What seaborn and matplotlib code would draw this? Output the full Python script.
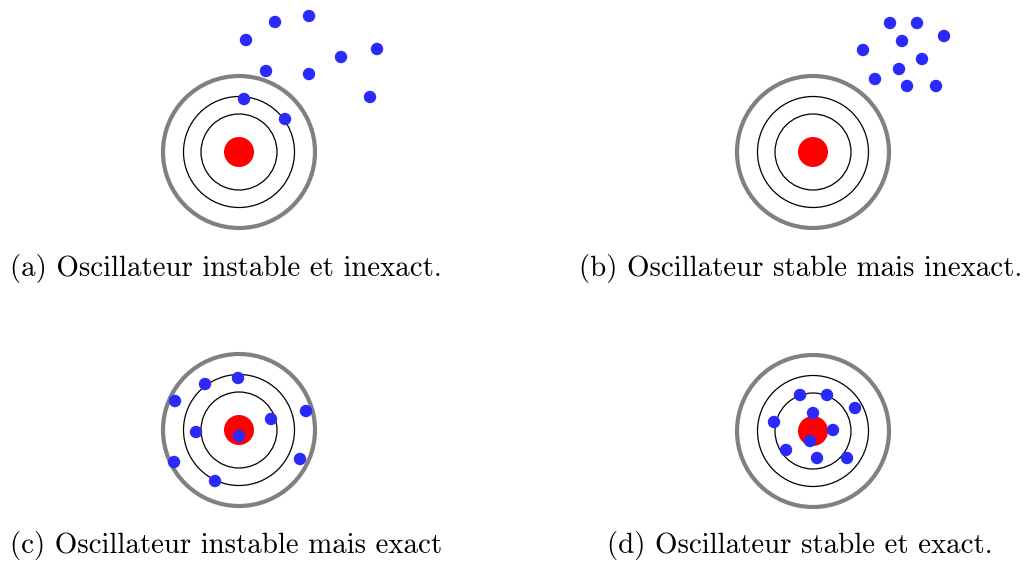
import numpy as np
import pandas as pd
import matplotlib
matplotlib.use('Agg')
import matplotlib.pyplot as plt
from matplotlib.patches import Circle
import seaborn as sns

# shots relative to target centre (pixels, y downward)
a_dx = [7, 36, 70, 27, 70, 102, 138, 131, 5, 46]
a_dy = [-112, -130, -136, -81, -78, -95, -103, -55, -53, -33]
b_dx = [77, 104, 131, 89, 50, 109, 86, 62, 94, 123]
b_dy = [-129, -129, -116, -111, -102, -93, -83, -73, -66, -66]
c_dx = [-1, -34, -64, 67, 32, -43, 0, -65, 61, -24]
c_dy = [-52, -46, -29, -19, -11, 2, 6, 32, 29, 51]
d_dx = [-13, 14, 42, 0, -39, 20, -3, -27, 4, 34]
d_dy = [-36, -36, -23, -18, -9, -1, 10, 19, 27, 27]

panels = ['a', 'b', 'c', 'd']
captions = ['(a) Oscillateur instable et inexact.',
            '(b) Oscillateur stable mais inexact.',
            '(c) Oscillateur instable mais exact',
            '(d) Oscillateur stable et exact.']

# layout
centres = {'a': (239, 152), 'b': (813, 152), 'c': (239, 430), 'd': (813, 431)}
cap_pos = {'a': (10, 276), 'b': (579, 276), 'c': (10, 553), 'd': (607, 553)}

shots = {'a': (a_dx, a_dy), 'b': (b_dx, b_dy), 'c': (c_dx, c_dy), 'd': (d_dx, d_dy)}
rows = []
for p in panels:
    cx, cy = centres[p]
    for dx, dy in zip(*shots[p]):
        rows.append({'panel': p, 'x': cx + dx, 'y': cy + dy})
df = pd.DataFrame(rows)

fig = plt.figure(figsize=(10.3, 5.61), dpi=100)
ax = fig.add_axes([0, 0, 1, 1])

for p in panels:
    cx, cy = centres[p]
    ax.add_patch(Circle((cx, cy), 76, fill=False, ec='#808080', lw=3, zorder=1))
    ax.add_patch(Circle((cx, cy), 55.5, fill=False, ec='black', lw=0.9, zorder=1))
    ax.add_patch(Circle((cx, cy), 38, fill=False, ec='black', lw=0.9, zorder=1))
    ax.add_patch(Circle((cx, cy), 15, fc='#ff0000', ec='none', zorder=2))

sns.scatterplot(data=df, x='x', y='y', ax=ax, color='#2a2aff', s=80,
                edgecolor='none', legend=False, zorder=3)
ax.set_xlim(0, 1030)
ax.set_ylim(561, 0)
ax.axis('off')

for p, cap in zip(panels, captions):
    x, y = cap_pos[p]
    ax.text(x, y, cap, fontfamily='cmr10', fontsize=20.8, ha='left', va='baseline')

fig.savefig('out.png', dpi=100)
